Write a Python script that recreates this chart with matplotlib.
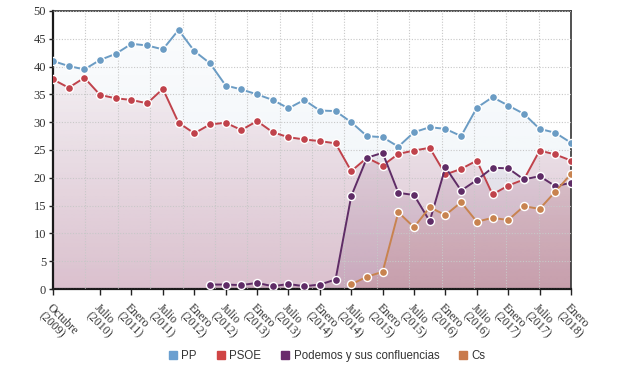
import numpy as np
import matplotlib
matplotlib.use('Agg')
import matplotlib.pyplot as plt
from matplotlib.lines import Line2D
from matplotlib.patches import Polygon
from matplotlib.colors import to_rgb

# Quarterly surveys, Oct 2009 .. Jan 2018 (index positions)
periods = list(range(34))

tick_pos = [0] + list(range(3, 34, 2))
tick_labels = ["Octubre\n(2009)", "Julio\n(2010)", "Enero\n(2011)", "Julio\n(2011)",
               "Enero\n(2012)", "Julio\n(2012)", "Enero\n(2013)", "Julio\n(2013)",
               "Enero\n(2014)", "Julio\n(2014)", "Enero\n(2015)", "Julio\n(2015)",
               "Enero\n(2016)", "Julio\n(2016)", "Enero\n(2017)", "Julio\n(2017)",
               "Enero\n(2018)"]

pp = [41.0, 40.1, 39.5, 41.2, 42.3, 44.1, 43.8, 43.1, 46.6, 42.8, 40.6, 36.6,
      35.9, 35.0, 34.0, 32.5, 34.0, 32.1, 32.0, 30.0, 27.5, 27.3, 25.6, 28.2,
      29.1, 28.8, 27.5, 32.6, 34.5, 33.0, 31.5, 28.8, 28.1, 26.3]
psoe = [37.7, 36.2, 38.0, 34.9, 34.3, 34.0, 33.4, 36.0, 29.9, 28.0, 29.6, 29.9,
        28.6, 30.2, 28.2, 27.3, 26.9, 26.6, 26.2, 21.2, 23.6, 22.2, 24.3, 24.9,
        25.4, 20.6, 21.6, 23.1, 17.0, 18.6, 19.7, 24.9, 24.2, 23.1]
podemos_x = periods[10:]
podemos = [0.8, 0.8, 0.7, 1.1, 0.5, 0.9, 0.5, 0.8, 1.7, 16.7, 23.6, 24.5, 17.3,
           16.9, 12.2, 21.9, 17.7, 19.6, 21.8, 21.7, 19.7, 20.3, 18.5, 19.1]
cs_x = periods[19:]
cs = [0.85, 2.2, 3.1, 13.8, 11.1, 14.7, 13.3, 15.6, 12.1, 12.8, 12.4, 14.9,
      14.4, 17.5, 20.7]

series_names = ["PP", "PSOE", "Podemos y sus confluencias", "Cs"]
line_colors = ["#6b9cc4", "#c0424b", "#5f2c66", "#c8834f"]
legend_colors = ["#6a9fd0", "#d04545", "#6a2c6c", "#c97a4c"]
fill_colors = ["#6b9cc4", "#b04a6c", "#6a2c60", "#c06a5a"]
fill_alpha = [(0.03, 0.12), (0.0, 0.30), (0.0, 0.16), (0.0, 0.16)]

fig = plt.figure(figsize=(6.4, 3.76), dpi=100)
ax = fig.add_axes([53/640, 1-289/376, (571-53)/640, (289-11)/376])

def gradient_fill(ax, x, y, color, a_top, a_bot):
    verts = [(x[0], 0)] + list(zip(x, y)) + [(x[-1], 0)]
    poly = Polygon(verts, closed=True, transform=ax.transData)
    n = 256
    img = np.zeros((n, 1, 4))
    img[:, :, :3] = to_rgb(color)
    img[:, 0, 3] = np.linspace(a_top, a_bot, n)
    im = ax.imshow(img, aspect='auto', extent=[0, 33, 0, 50], origin='upper',
                   zorder=1, interpolation='bilinear')
    im.set_clip_path(poly)

xs = [periods, periods, podemos_x, cs_x]
ys = [pp, psoe, podemos, cs]
for x, y, fc, (a0, a1) in zip(xs, ys, fill_colors, fill_alpha):
    gradient_fill(ax, x, y, fc, a0, a1)

for x, y, c in zip(xs, ys, line_colors):
    ax.plot(x, y, color=c, lw=1.4, marker='o', ms=5.8, mfc=c, mec='white',
            mew=1.0, zorder=4, solid_capstyle='round')

ax.set_xlim(0, 33)
ax.set_ylim(0, 50)
ax.set_yticks(range(0, 51, 5))
ax.set_xticks(tick_pos)
ax.set_xticklabels(tick_labels, rotation=-45, ha='left', va='top',
                   rotation_mode='anchor', family='Liberation Serif',
                   fontsize=8.6, color='#333333', linespacing=1.0)
ax.set_xticks(np.linspace(0, 33, 17), minor=True)
for lab in ax.get_yticklabels():
    lab.set_family('Liberation Serif')
ax.tick_params(axis='y', labelsize=9, labelcolor='#333333', length=3,
               width=1, color='#222222', pad=2)
ax.tick_params(axis='x', which='major', length=4, width=1, color='#222222', pad=5)
ax.tick_params(axis='x', which='minor', length=0)
ax.set_axisbelow(False)
ax.grid(False)
ax.yaxis.grid(True, color='#c8c8c8', linestyle=(0, (1, 1.5)), lw=0.8, zorder=2)
ax.xaxis.grid(True, which='minor', color='#c8c8c8', linestyle=(0, (1, 1.5)),
              lw=0.8, zorder=2)
for side in ['left', 'bottom']:
    ax.spines[side].set_linewidth(1.6)
    ax.spines[side].set_color('#1a1a1a')
for side in ['top', 'right']:
    ax.spines[side].set_linewidth(1.2)
    ax.spines[side].set_color('#333333')
ax.set_facecolor('white')

handles = [Line2D([], [], linestyle='none', marker='s', ms=5.5, mfc=c, mec=c)
           for c in legend_colors]
fig.legend(handles, series_names, loc='center', bbox_to_anchor=(0.512, 0.053),
           ncol=4, frameon=False, handlelength=0.6, handletextpad=0.4,
           columnspacing=1.8, prop={'family': 'Liberation Sans', 'size': 8.3},
           labelcolor='#333333')

fig.savefig('out.png', dpi=100, facecolor='white')
